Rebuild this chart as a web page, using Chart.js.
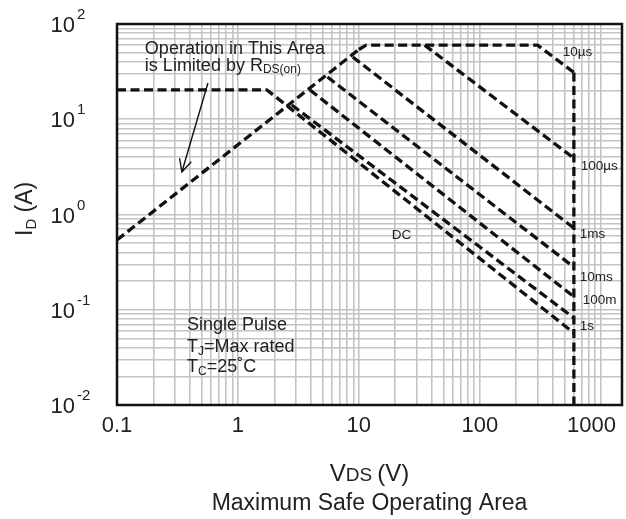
<!DOCTYPE html>
<html>
<head>
<meta charset="utf-8">
<script src="https://cdn.jsdelivr.net/npm/chart.js@4.4.1/dist/chart.umd.min.js"></script>
<style>
  html, body { margin: 0; padding: 0; background: #fff; }
</style>
</head>
<body>
<canvas id="soa" width="626" height="519"></canvas>
<script>
// SOA limit lines: V = VDS (volts), I = ID (amps)
const rdsV = [0.1, 10];
const rdsI = [0.54, 54];
const us10V = [10, 11.5, 300, 600];
const us10I = [54, 60, 60, 31];
const bvdssV = [600, 600];
const bvdssI = [31, 0.01];
const us100V = [35, 600];
const us100I = [60, 3.9];
const ms1V = [8.9, 600];
const ms1I = [45, 0.72];
const ms10V = [5.5, 600];
const ms10I = [27.8, 0.28];
const ms100V = [3.94, 600];
const ms100I = [20.3, 0.137];
const s1V = [2.79, 600];
const s1I = [14.1, 0.082];
const dcV = [0.1, 1.74, 600];
const dcI = [20.3, 20.3, 0.057];

// axis labels
const xTicks = [0.1, 1, 10, 100, 1000];
const xTickText = ['0.1', '1', '10', '100', '1000'];
const yTicks = [0.01, 0.1, 1, 10, 100];
const yTickExp = ['-2', '-1', '0', '1', '2'];

// curve names, placed at (V, I)
const curveNames = ['10µs', '100µs', '1ms', '10ms', '100m', '1s', 'DC'];
const nameV = [485, 684, 670, 670, 710, 670, 18.7];
const nameI = [50.8, 3.23, 0.624, 0.221, 0.1265, 0.0675, 0.61];

const FONT = "'Liberation Sans', Arial, sans-serif";
const INK = '#222';

// log grid: 1..9 in each decade
function logGrid(lo, hi) {
  const out = [];
  for (let e = lo; e < hi; e++) {
    for (let m = 1; m <= 9; m++) out.push(+(m * Math.pow(10, e)).toPrecision(3));
  }
  out.push(Math.pow(10, hi));
  return out;
}
const xGrid = logGrid(-1, 3);
const yGrid = logGrid(-2, 2);

function pts(vs, is) {
  return vs.map((v, k) => ({ x: v, y: is[k] }));
}

function dashed(data) {
  return {
    data: data,
    showLine: true,
    borderColor: '#111',
    borderWidth: 3.3,
    borderDash: [9, 4.5],
    borderJoinStyle: 'round',
    pointRadius: 0,
    fill: false
  };
}

// draws a run of text pieces [str, size, dy], left to right
function run(ctx, parts, x, y) {
  let cx = x;
  for (const [s, size, dy] of parts) {
    ctx.font = size + 'px ' + FONT;
    ctx.fillText(s, cx, y + dy);
    cx += ctx.measureText(s).width;
  }
}

const notes = {
  id: 'notes',
  afterDraw(chart) {
    const { ctx, chartArea: a, scales: { x, y } } = chart;
    ctx.save();

    // frame round the plot
    ctx.strokeStyle = '#111';
    ctx.lineWidth = 2.5;
    ctx.strokeRect(a.left, a.top, a.right - a.left, a.bottom - a.top);

    ctx.fillStyle = INK;
    ctx.textBaseline = 'middle';

    // x tick labels (the last one kept inside the frame)
    ctx.font = '22px ' + FONT;
    ctx.textAlign = 'center';
    xTicks.forEach((v, k) => {
      const w = ctx.measureText(xTickText[k]).width;
      const px = Math.min(x.getPixelForValue(v), a.right - w / 2 - 6);
      ctx.fillText(xTickText[k], px, a.bottom + 21);
    });

    // y tick labels, 10 with superscript
    yTicks.forEach((v, k) => {
      const py = y.getPixelForValue(v);
      ctx.font = '22px ' + FONT;
      ctx.textAlign = 'right';
      ctx.fillText('10', 75, py + 2);
      ctx.font = '15px ' + FONT;
      ctx.textAlign = 'left';
      ctx.fillText(yTickExp[k], 77, py - 9);
    });

    // curve names
    ctx.font = '13.5px ' + FONT;
    curveNames.forEach((t, k) => ctx.fillText(t, x.getPixelForValue(nameV[k]), y.getPixelForValue(nameI[k])));

    // notes inside the plot
    const lx = x.getPixelForValue(0.17);
    run(ctx, [['Operation in This Area', 18, 0]], lx, y.getPixelForValue(54.7));
    run(ctx, [['is Limited by R', 18, 0], ['DS(on)', 12, 4]], lx, y.getPixelForValue(36.2));

    const sx = x.getPixelForValue(0.379);
    run(ctx, [['Single Pulse', 18, 0]], sx, y.getPixelForValue(0.0692));
    run(ctx, [['T', 18, 0], ['J', 12, 5], ['=Max rated', 18, 0]], sx, y.getPixelForValue(0.0406));
    run(ctx, [['T', 18, 0], ['C', 12, 5], ['=25˚C', 18, 0]], sx, y.getPixelForValue(0.0251));

    // arrow pointing at the RDS(on) line
    const x0 = x.getPixelForValue(0.565), y0 = y.getPixelForValue(24);
    const x1 = x.getPixelForValue(0.344), y1 = y.getPixelForValue(2.79);
    const ang = Math.atan2(y1 - y0, x1 - x0);
    ctx.strokeStyle = '#111';
    ctx.lineWidth = 1.4;
    ctx.beginPath();
    ctx.moveTo(x0, y0);
    ctx.lineTo(x1, y1);
    ctx.moveTo(x1 - 14 * Math.cos(ang - 0.45), y1 - 14 * Math.sin(ang - 0.45));
    ctx.lineTo(x1, y1);
    ctx.lineTo(x1 - 14 * Math.cos(ang + 0.45), y1 - 14 * Math.sin(ang + 0.45));
    ctx.stroke();

    // axis titles
    ctx.textAlign = 'left';
    ctx.textBaseline = 'alphabetic';
    const cx = (a.left + a.right) / 2;
    ctx.font = '24px ' + FONT;
    let w = ctx.measureText('V').width;
    ctx.font = '19px ' + FONT;
    w += ctx.measureText('DS ').width;
    ctx.font = '24px ' + FONT;
    w += ctx.measureText('(V)').width;
    run(ctx, [['V', 24, 0], ['DS ', 19, 0], ['(V)', 24, 0]], cx - w / 2, 481);

    ctx.textAlign = 'center';
    ctx.font = '23px ' + FONT;
    ctx.fillText('Maximum Safe Operating Area', cx, 510);

    ctx.save();
    ctx.translate(32, 236);
    ctx.rotate(-Math.PI / 2);
    ctx.textAlign = 'left';
    run(ctx, [['I', 23, 0], ['D', 15, 4], [' (A)', 23, 0]], 0, 0);
    ctx.restore();

    ctx.restore();
  }
};

new Chart(document.getElementById('soa'), {
  type: 'scatter',
  data: {
    datasets: [
      dashed(pts(rdsV, rdsI)),
      dashed(pts(us10V, us10I)),
      dashed(pts(bvdssV, bvdssI)),
      dashed(pts(us100V, us100I)),
      dashed(pts(ms1V, ms1I)),
      dashed(pts(ms10V, ms10I)),
      dashed(pts(ms100V, ms100I)),
      dashed(pts(s1V, s1I)),
      dashed(pts(dcV, dcI))
    ]
  },
  options: {
    responsive: false,
    animation: false,
    layout: { padding: { top: 24, right: 4, left: 0, bottom: 0 } },
    plugins: {
      legend: { display: false },
      tooltip: { enabled: false }
    },
    scales: {
      x: {
        type: 'logarithmic',
        min: 0.1,
        max: 1500,
        afterBuildTicks: s => { s.ticks = xGrid.map(v => ({ value: v })); },
        afterFit: s => { s.height = 114; },
        ticks: { display: false },
        grid: { color: '#c4c4c4', lineWidth: 1.6, drawTicks: false },
        border: { display: false }
      },
      y: {
        type: 'logarithmic',
        min: 0.01,
        max: 100,
        afterBuildTicks: s => { s.ticks = yGrid.map(v => ({ value: v })); },
        afterFit: s => { s.width = 117; },
        ticks: { display: false },
        grid: { color: '#c4c4c4', lineWidth: 1.6, drawTicks: false },
        border: { display: false }
      }
    }
  },
  plugins: [notes]
});
</script>
</body>
</html>
